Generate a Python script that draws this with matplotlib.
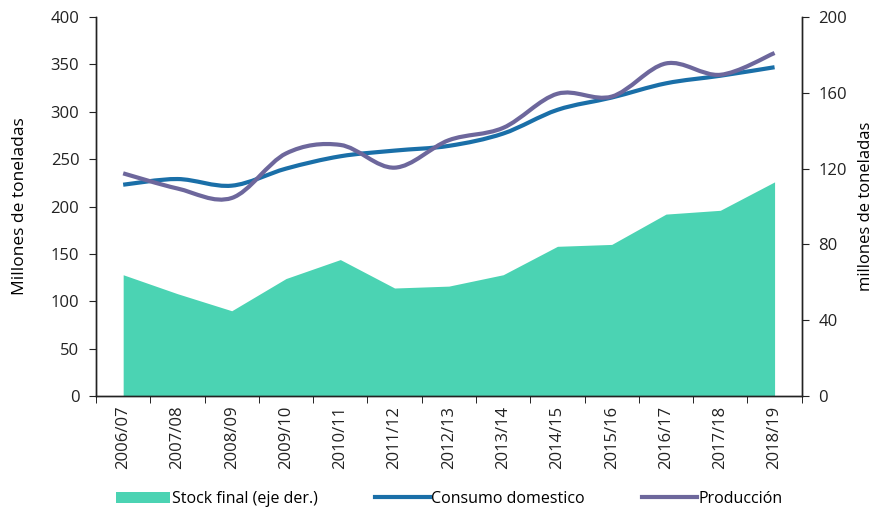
#!/usr/bin/env python3
"""
Consumo, produccion y stock final (millones de toneladas), 2006/07 - 2018/19.
"""
import numpy as np
import matplotlib
matplotlib.use('Agg')
import matplotlib.pyplot as plt
from matplotlib.path import Path
from matplotlib.patches import PathPatch, Patch
from matplotlib.lines import Line2D

plt.rcParams['font.family'] = ['Open Sans', 'DejaVu Sans']

campanas = ['2006/07', '2007/08', '2008/09', '2009/10', '2010/11', '2011/12', '2012/13',
            '2013/14', '2014/15', '2015/16', '2016/17', '2017/18', '2018/19']
consumo = [223, 229, 222, 240, 253, 259, 264, 277, 302, 315, 330, 338, 347]
produccion = [235, 219, 209, 256, 265, 241, 270, 283, 319, 316, 351, 339, 362]
stock = [64, 54, 45, 62, 72, 57, 58, 64, 79, 80, 96, 98, 113]  # eje derecho

COL_STOCK = '#4bd3b3'
COL_CONS = '#1a6fa8'
COL_PROD = '#6d679c'


def smooth_path(xs, ys):
    """Bezier path through the points (Excel-like smoothed line)."""
    pts = np.column_stack([xs, ys]).astype(float)
    n = len(pts)
    verts = [pts[0]]
    codes = [Path.MOVETO]
    for i in range(n - 1):
        p0 = pts[max(i - 1, 0)]
        p1 = pts[i]
        p2 = pts[i + 1]
        p3 = pts[min(i + 2, n - 1)]
        c1 = p1 + (p2 - p0) / 6.0
        c2 = p2 - (p3 - p1) / 6.0
        verts += [c1, c2, p2]
        codes += [Path.CURVE4] * 3
    return Path(verts, codes)


fig = plt.figure(figsize=(8.81, 5.15), dpi=100)
ax = fig.add_axes([0.109, 0.231, 0.801, 0.736])
ax2 = ax.twinx()
ax.set_zorder(ax2.get_zorder() + 1)
ax.patch.set_visible(False)

x = np.arange(len(campanas))
ax2.fill_between(x, 0, stock, color=COL_STOCK, linewidth=0)
ax2.set_ylim(0, 200)
ax2.set_yticks([0, 40, 80, 120, 160, 200])

for serie, col in [(consumo, COL_CONS), (produccion, COL_PROD)]:
    ax.add_patch(PathPatch(smooth_path(x, serie), facecolor='none', edgecolor=col,
                           linewidth=3, capstyle='butt'))

ax.set_xlim(-0.5, len(campanas) - 0.5)
ax.set_ylim(0, 400)
ax.set_yticks(range(0, 401, 50))
ax.set_xticks(x)
ax.set_xticklabels(campanas, rotation=90)
ax.set_xticks(np.arange(-0.5, len(campanas), 1.0), minor=True)

for a in (ax, ax2):
    a.spines['top'].set_visible(False)
    for s in ('left', 'right', 'bottom'):
        a.spines[s].set_color('#222222')
        a.spines[s].set_linewidth(1.0)
    a.tick_params(labelsize=12, colors='#222222', length=5, pad=7)

ax.tick_params(axis='x', which='major', length=0, pad=7)
ax.tick_params(axis='x', which='minor', length=5, direction='out')

ax.set_ylabel('Millones de toneladas', fontsize=12.5, labelpad=16)
ax2.set_ylabel('millones de toneladas', fontsize=12, rotation=90, labelpad=8)

handles = [Patch(facecolor=COL_STOCK, label='Stock final (eje der.)'),
           Line2D([], [], color=COL_CONS, linewidth=3, label='Consumo domestico'),
           Line2D([], [], color=COL_PROD, linewidth=3, label='Producción')]
fig.legend(handles=handles, loc='lower center', bbox_to_anchor=(0.51, -0.012), ncol=3,
           frameon=False, fontsize=11.5, handlelength=3.4, handletextpad=0.1,
           columnspacing=3.6)

plt.savefig('out.png', dpi=100)
plt.close()
